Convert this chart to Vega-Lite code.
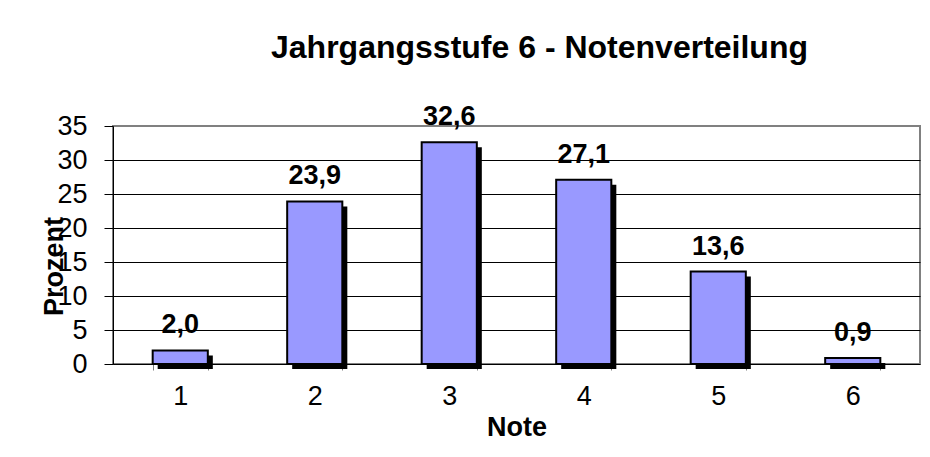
{
  "$schema": "https://vega.github.io/schema/vega-lite/v6.json",
  "autosize": "none",
  "width": 807,
  "height": 238,
  "padding": {"left": 113, "top": 126, "right": 10, "bottom": 93},
  "background": "white",
  "title": {
    "text": "Jahrgangsstufe 6 - Notenverteilung",
    "font": "Liberation Sans",
    "fontSize": 32,
    "fontWeight": "bold",
    "color": "black",
    "anchor": "middle",
    "dx": 23,
    "baseline": "alphabetic",
    "offset": 13
  },
  "data": {
    "values": [
      {"Note": "1", "Prozent": 2.0},
      {"Note": "2", "Prozent": 23.9},
      {"Note": "3", "Prozent": 32.6},
      {"Note": "4", "Prozent": 27.1},
      {"Note": "5", "Prozent": 13.6},
      {"Note": "6", "Prozent": 0.9}
    ]
  },
  "encoding": {
    "x": {
      "field": "Note",
      "type": "ordinal",
      "scale": {"paddingInner": 0.59, "paddingOuter": 0.295},
      "axis": {
        "title": "Note",
        "labelAngle": 0,
        "tickBand": "extent",
        "domainColor": "black",
        "domainWidth": 1,
        "tickColor": "#808080",
        "tickSize": 6,
        "labelPadding": 13,
        "labelFontSize": 27,
        "labelFont": "Liberation Sans",
        "labelColor": "black",
        "titleFont": "Liberation Sans",
        "titleFontSize": 27,
        "titleFontWeight": "bold",
        "titleColor": "black",
        "titlePadding": 5
      }
    },
    "y": {
      "field": "Prozent",
      "type": "quantitative",
      "scale": {"domain": [0, 35], "nice": false},
      "axis": {
        "title": "Prozent",
        "values": [0, 5, 10, 15, 20, 25, 30, 35],
        "grid": true,
        "gridColor": {"condition": {"test": "datum.value === 35 || datum.value === 0", "value": "#808080"}, "value": "black"},
        "gridWidth": 1,
        "domainColor": "black",
        "tickColor": "black",
        "tickSize": 9,
        "labelPadding": 17,
        "labelFontSize": 27,
        "labelFont": "Liberation Sans",
        "labelColor": "black",
        "titleFont": "Liberation Sans",
        "titleFontSize": 27,
        "titleFontWeight": "bold",
        "titleColor": "black",
        "titleX": -51,
        "titleY": 140,
        "titleAngle": -90,
        "titleAlign": "center",
        "titleBaseline": "alphabetic"
      }
    }
  },
  "layer": [
    {
      "mark": {"type": "bar", "fill": "black", "xOffset": 5, "x2Offset": 5, "yOffset": 5}
    },
    {
      "mark": {"type": "bar", "fill": "#9999FF", "stroke": "black", "strokeWidth": 2}
    },
    {
      "mark": {"type": "text", "font": "Liberation Sans", "fontSize": 27, "fontWeight": "bold", "baseline": "alphabetic", "dy": -17, "color": "black"},
      "encoding": {
        "text": {"field": "Prozent", "type": "quantitative", "format": ".1f"}
      }
    }
  ],
  "config": {
    "locale": {"number": {"decimal": ",", "thousands": ".", "grouping": [3], "currency": ["", " €"]}},
    "view": {"stroke": "#808080", "strokeWidth": 2}
  }
}
